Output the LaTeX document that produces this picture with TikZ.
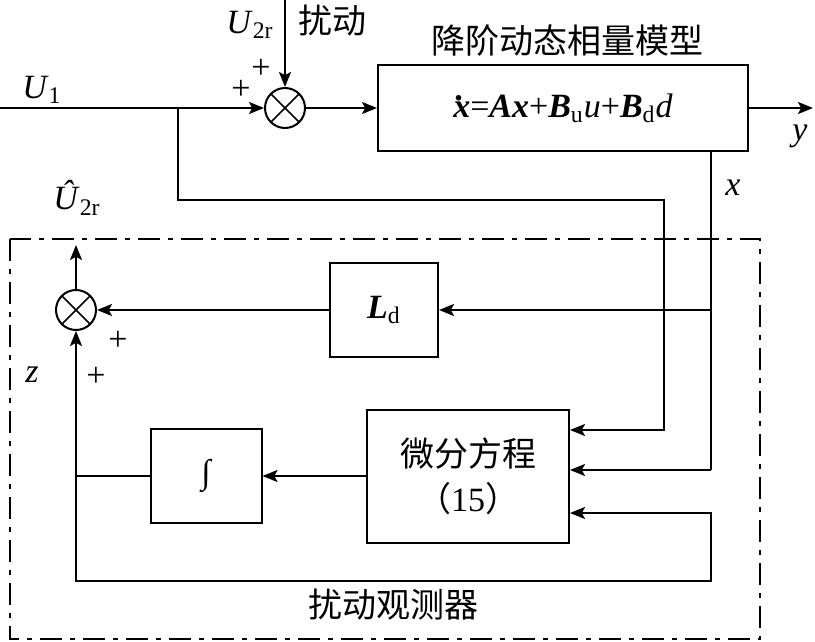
\documentclass[tikz,border=0pt]{standalone}
\usepackage{fontspec}
\setmainfont{Liberation Serif}
\newfontfamily\cjk{Noto Sans CJK SC}
\usetikzlibrary{calc,positioning,arrows.meta}

% bold italic x with a dot on top
\newcommand{\xdotbf}{\textbf{\textit{x}}\llap{\raisebox{0.48em}{\textbf{.}}\kern0.22em}}

\begin{document}
\begin{tikzpicture}[x=0.5pt, y=-0.5pt, line width=1pt, line cap=butt,
  font=\fontsize{17}{20}\selectfont,
  blk/.style={draw, rectangle, inner sep=0pt},
  sumnode/.style={draw, circle, minimum size=20pt, inner sep=0pt,
    path picture={\draw[line width=0.8pt]
      (path picture bounding box.north west) -- (path picture bounding box.south east)
      (path picture bounding box.south west) -- (path picture bounding box.north east);}},
  sig/.style={-{Stealth[length=7.5pt, width=6pt, inset=1.6pt]}},
  obsframe/.style={line width=0.9pt, dash pattern=on 11pt off 4pt on 2.5pt off 4pt},
]

\useasboundingbox (0,0) rectangle (815,642);

% --- observer frame ---
\draw[obsframe] (10,239) rectangle (760,639);
\node (lblobs) at (393,605) {\cjk 扰动观测器};

% --- plant ---
\node[blk, minimum width=185pt, minimum height=43pt] (model) at (563,108)
  {\xdotbf=\textbf{\textit{Ax}}+\textbf{\textit{B}}\textsubscript{u}\textit{u}+\textbf{\textit{B}}\textsubscript{d}\textit{d}};
\node (mtitle) at (567,41) {\cjk 降阶动态相量模型};
\node[sumnode] (sum1) at (285,108) {};

\coordinate (u1in) at (0,108);
\coordinate (tap1) at (178,108);
\coordinate (u2in) at (285,0);
\coordinate (yout) at (813,108);

% --- observer blocks ---
\node[blk, minimum width=54pt, minimum height=47pt] (Ld) at (384,310)
  {\textbf{\textit{L}}\textsubscript{d}};
\node[sumnode] (sum2) at (76,310) {};
\node[blk, minimum width=101pt, minimum height=66.5pt, align=center] (diffeq) at (468,476)
  {\cjk 微分方程\\[2.5pt]{\cjk （}15{\cjk ）}};
\node[blk, minimum width=55.5pt, minimum height=47pt] (integ) at (206,476) {∫};

\coordinate (bend1) at (664,200);
\coordinate (xout) at ([xshift=74pt]model.south);
\coordinate (xD) at (711,470);
\coordinate (fbR) at (711,581);
\coordinate (fbD) at (711,513);
\coordinate (zj) at (sum2.south |- integ.west);
\coordinate (u2hat) at (76,245);

% --- connectors ---
\draw[sig] (u1in) -- (sum1.west);
\draw[sig] (u2in) -- (sum1.north);
\draw[sig] (sum1) -- (model);
\draw[sig] (model) -- (yout);
\draw[sig] (tap1) |- (bend1) |- ([yshift=23pt]diffeq.east);
\draw (xout) -- (xD);
\draw[sig] (xout |- Ld.east) -- (Ld.east);
\draw[sig] (xD) -- (diffeq.east |- xD);
\draw[sig] (Ld) -- (sum2);
\draw[sig] (diffeq) -- (integ);
\draw[sig] (integ.west) -| (sum2.south);
\draw[sig] (zj) |- (fbR) |- (diffeq.east |- fbD);
\draw[sig] (sum2) -- (u2hat);

% --- labels ---
\node (lblU1) at (42,90) {\textit{U}\textsubscript{1}};
\node (lblU2) at (250,25) {\textit{U}\textsubscript{2r}};
\node (lblDist) at (332,21) {\cjk 扰动};
\node (plusA) at (261,69) {+};
\node (plusB) at (241,90) {+};
\node (lbly) at (800,136) {\textit{y}};
\node (lblx) at (733,188) {\textit{x}};
\node (lblU2hat) at (77,198) {\textit{Û}\textsubscript{2r}};
\node (plusC) at (118,341) {+};
\node (plusD) at (96,377) {+};
\node (lblz) at (32,375) {\textit{z}};

\end{tikzpicture}
\end{document}
